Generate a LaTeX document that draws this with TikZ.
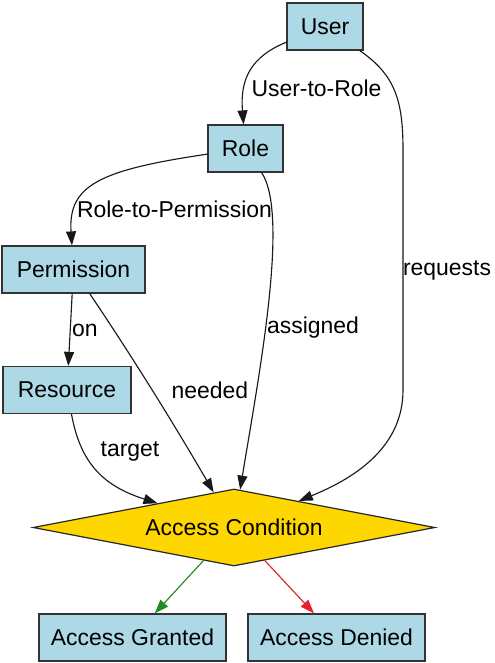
\documentclass[tikz,border=0pt]{standalone}
\usepackage{fontspec}
\setmainfont{Liberation Sans}
\usetikzlibrary{shapes.geometric,arrows.meta}
\definecolor{boxblue}{HTML}{ADD8E6}
\definecolor{gold}{HTML}{FFD700}
\definecolor{okgreen}{HTML}{228B22}
\definecolor{nored}{HTML}{E8202A}
\tikzset{
  box/.style={draw=black!80, line width=0.9pt, fill=boxblue, minimum height=35.25pt, inner sep=0pt, font=\fontsize{17.2}{20}\selectfont},
  decision/.style={diamond, draw=black!85, line width=0.9pt, fill=gold, aspect=5.2, inner sep=0pt, minimum width=301.5pt, minimum height=57.75pt, font=\fontsize{17.2}{20}\selectfont},
  lbl/.style={font=\fontsize{17.2}{20}\selectfont, inner sep=0pt},
  edge/.style={draw=black!90, line width=0.85pt, -{Triangle[length=10.5pt,width=7.5pt]}},
}
\begin{document}
\begin{tikzpicture}[x=0.75pt,y=-0.75pt]
\useasboundingbox (0,0) rectangle (495,663);
\node[box, minimum width=57pt] (user) at (325,26.5) {User};
\node[box, minimum width=56.25pt] (role) at (245.5,148.5) {Role};
\node[box, minimum width=107.25pt] (perm) at (73.5,269.5) {Permission};
\node[box, minimum width=96pt] (res) at (67,390) {Resource};
\node[decision] (acc) at (234,527.5) {Access Condition};
\node[box, minimum width=140.25pt] (grant) at (132.5,637.5) {Access Granted};
\node[box, minimum width=132.75pt] (deny) at (336.5,637.5) {Access Denied};

\draw[edge] (user) .. controls (250,57) and (240,80) .. (role);
\node[lbl] (l1) at (316.5,88) {User-to-Role};

\draw[edge] (user) .. controls (395,75) and (403,100) .. (403,150) -- (403,390) .. controls (403,450) and (350,480) .. (acc);
\node[lbl] (l2) at (447,270) {requests};

\draw[edge] (role) .. controls (100,170) and (68,185) .. (perm);
\node[lbl] (l3) at (174.5,209) {Role-to-Permission};

\draw[edge] (role) .. controls (290,215) and (258,380) .. (acc);
\node[lbl] (l4) at (313,328) {assigned};

\draw[edge] (perm) -- (res);
\node[lbl] (l5) at (85,330) {on};

\draw[edge] (perm) .. controls (133,358) and (174,424) .. (acc);
\node[lbl] (l6) at (210,390) {needed};

\draw[edge] (res) .. controls (80,460) and (100,485) .. (acc);
\node[lbl] (l7) at (130,451) {target};

\draw[edge, draw=okgreen, fill=okgreen] (acc) -- (grant);
\draw[edge, draw=nored, fill=nored] (acc) -- (deny);
\end{tikzpicture}
\end{document}
